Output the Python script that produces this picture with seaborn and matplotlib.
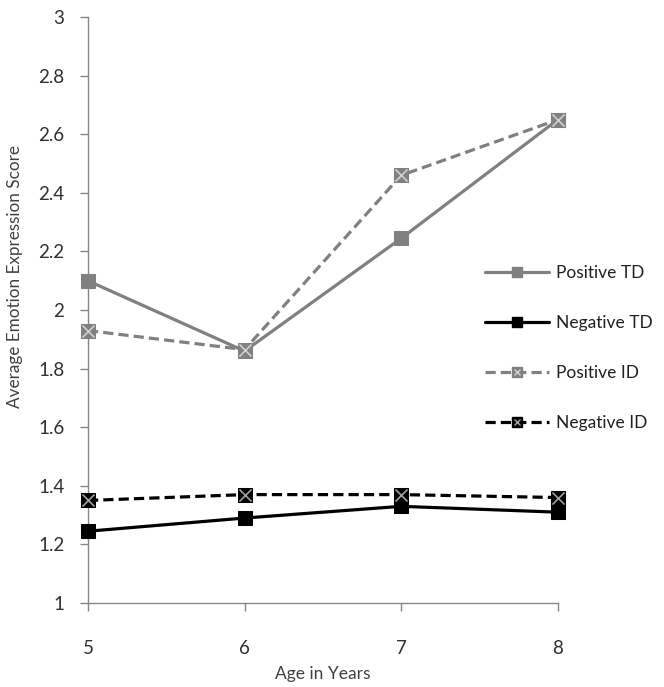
import pandas as pd
import matplotlib
matplotlib.use("Agg")
import matplotlib.pyplot as plt
from matplotlib.lines import Line2D
from matplotlib.legend_handler import HandlerTuple
import seaborn as sns

# Data
ages = [5, 6, 7, 8]
positive_td = [2.10, 1.86, 2.245, 2.65]
negative_td = [1.245, 1.29, 1.33, 1.31]
positive_id = [1.93, 1.865, 2.46, 2.65]
negative_id = [1.35, 1.37, 1.37, 1.36]
series_names = ["Positive TD", "Negative TD", "Positive ID", "Negative ID"]
y_ticks = [1, 1.2, 1.4, 1.6, 1.8, 2, 2.2, 2.4, 2.6, 2.8, 3]
y_tick_labels = ["1", "1.2", "1.4", "1.6", "1.8", "2", "2.2", "2.4", "2.6", "2.8", "3"]

df = pd.DataFrame({"Age": ages * 4,
                   "Score": positive_td + negative_td + positive_id + negative_id,
                   "Series": [s for s in series_names for _ in ages]})

sns.set_style("white")
plt.rcParams['font.family'] = ['Lato', 'DejaVu Sans']

gray = "#808080"
styles = {
    "Positive TD": dict(color=gray, ls="-", cross=None),
    "Negative TD": dict(color="black", ls="-", cross=None),
    "Positive ID": dict(color=gray, ls=(0, (3.2, 1.6)), cross="#d0d0d0"),
    "Negative ID": dict(color="black", ls=(0, (3.2, 1.6)), cross="#a0a0a0"),
}

fig = plt.figure(figsize=(6.64, 6.87), dpi=100)
ax = fig.add_axes([0.1325, 0.1223, 0.7075, 0.8527])

handles = []
for name in series_names:
    st = styles[name]
    sub = df[df["Series"] == name]
    n_lines = len(ax.lines)
    sns.lineplot(data=sub, x="Age", y="Score", ax=ax, color=st["color"],
                 linestyle=st["ls"], linewidth=2.3, marker="s", markersize=10.5,
                 markeredgecolor=st["color"], legend=False, zorder=3)
    for ln in ax.lines[n_lines:]:
        ln.set_clip_on(False)
    line_h = Line2D([], [], color=st["color"], linestyle=st["ls"], linewidth=2.3,
                    marker="s", markersize=7, markeredgecolor=st["color"])
    if st["cross"]:
        n_coll = len(ax.collections)
        sns.scatterplot(data=sub, x="Age", y="Score", ax=ax, marker="x", s=75,
                        color=st["cross"], linewidth=1.2, legend=False, zorder=4)
        for c in ax.collections[n_coll:]:
            c.set_clip_on(False)
        cross_h = Line2D([], [], linestyle="none", marker="x", markersize=5,
                         color=st["cross"], markeredgewidth=1.0)
        handles.append((line_h, cross_h))
    else:
        handles.append(line_h)

ax.set_xlim(5, 8)
ax.set_ylim(1, 3)
ax.set_xticks(ages)
ax.set_yticks(y_ticks)
ax.set_yticklabels(y_tick_labels)
ax.set_xlabel("Age in Years", fontsize=12.5, color="#404040")
ax.set_ylabel("Average Emotion Expression Score", fontsize=12.3, color="#404040")
ax.xaxis.set_label_coords(0.5, -0.108)
ax.yaxis.set_label_coords(-0.138, 0.558)
ax.tick_params(axis="both", labelsize=13.5, colors="#868686",
               length=6, width=1, direction="out", left=True, bottom=True)
ax.tick_params(axis="x", pad=21)
ax.tick_params(axis="y", pad=11)
ax.tick_params(axis="both", labelcolor="#303030")
for side in ["top", "right"]:
    ax.spines[side].set_visible(False)
for side in ["left", "bottom"]:
    ax.spines[side].set_color("#868686")
    ax.spines[side].set_linewidth(1)

leg = ax.legend(handles, series_names, handler_map={tuple: HandlerTuple(ndivide=1, pad=0)},
                loc="center left", bbox_to_anchor=(0.730, 0.4934),
                bbox_transform=fig.transFigure, frameon=False, borderaxespad=0, borderpad=0,
                fontsize=12.5, labelspacing=1.95, handlelength=3.7, handletextpad=0.4)
for t in leg.get_texts():
    t.set_color("#202020")

fig.savefig("out.png", dpi=100)
